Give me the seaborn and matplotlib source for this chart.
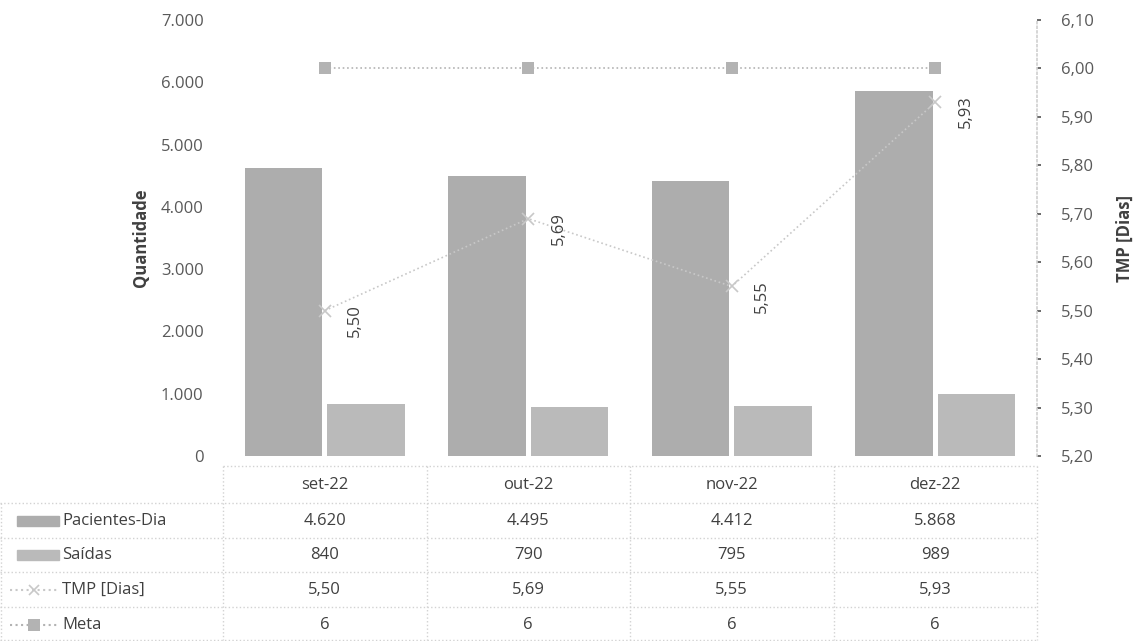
import numpy as np
import pandas as pd
import matplotlib
matplotlib.use('Agg')
import matplotlib.pyplot as plt
import matplotlib.transforms as mtransforms
from matplotlib.lines import Line2D
from matplotlib.patches import Rectangle
from matplotlib.ticker import FuncFormatter
import seaborn as sns

meses = ['set-22', 'out-22', 'nov-22', 'dez-22']
pacientes_dia = [4620, 4495, 4412, 5868]
saidas = [840, 790, 795, 989]
tmp_dias = [5.50, 5.69, 5.55, 5.93]
meta = [6, 6, 6, 6]

sns.set_theme(style='white')
plt.rcParams['font.family'] = ['Open Sans', 'DejaVu Sans']

COR_PAC = '#adadad'
COR_SAI = '#bababa'
COR_LINHA = '#c8c8c8'
COR_META = '#b3b3b3'
COR_TICK = '#595959'
COR_TXT = '#404040'
COR_GRADE = '#d2d2d2'

df = pd.DataFrame({
    'mes': meses * 2,
    'valor': pacientes_dia + saidas,
    'serie': ['Pacientes-Dia'] * 4 + ['Saídas'] * 4,
})

fig = plt.figure(figsize=(11.36, 6.41), dpi=100)
W, H = 1136, 641
x0, x1, ytop, ybot = 223, 1037, 20, 456
ax = fig.add_axes([x0 / W, 1 - ybot / H, (x1 - x0) / W, (ybot - ytop) / H])

sns.barplot(data=df, x='mes', y='valor', hue='serie', palette=[COR_PAC, COR_SAI],
            width=0.81, gap=0.06, ax=ax, legend=False, saturation=1,
            edgecolor='none', linewidth=0)
ax.set_xlim(-0.5, len(meses) - 0.5)
ax.set_ylim(0, 7000)
ax.set_yticks(range(0, 7001, 1000))
ax.yaxis.set_major_formatter(FuncFormatter(lambda v, p: f'{int(v):,}'.replace(',', '.')))
ax.tick_params(axis='y', colors=COR_TICK, labelsize=12, length=0, pad=14)
ax.set_xticks([])
ax.set_xlabel('')
ax.set_ylabel('Quantidade', fontsize=12, fontweight='bold', color=COR_TXT, labelpad=8)
for s in ax.spines.values():
    s.set_visible(False)

# eixo secundario: TMP e Meta
ax2 = ax.twinx()
pos = np.arange(len(meses))
sns.lineplot(x=pos, y=meta, ax=ax2, color=COR_META, linestyle=':', linewidth=1.2,
             marker='s', markersize=9, markeredgewidth=0)
sns.lineplot(x=pos, y=tmp_dias, ax=ax2, color=COR_LINHA, linestyle=':', linewidth=1.2,
             marker='x', markersize=8, markeredgewidth=1.2, markeredgecolor=COR_LINHA)
ax2.set_ylim(5.2, 6.1)
ax2.set_yticks(np.arange(5.2, 6.11, 0.1))
ax2.yaxis.set_major_formatter(FuncFormatter(lambda v, p: f'{v:.2f}'.replace('.', ',')))
ax2.tick_params(axis='y', colors=COR_TICK, labelsize=12, length=3, pad=14)
ax2.set_ylabel('TMP [Dias]', fontsize=12, fontweight='bold', color=COR_TXT, labelpad=16)
for s in ax2.spines.values():
    s.set_visible(False)
ax2.spines['right'].set_visible(True)
ax2.spines['right'].set_color(COR_GRADE)
ax2.spines['right'].set_linestyle(':')
ax2.set_xlim(-0.5, len(meses) - 0.5)

for i, v in enumerate(tmp_dias):
    ax2.text(i + 0.15, v - 0.02, f'{v:.2f}'.replace('.', ','), rotation=90,
             ha='center', va='center', fontsize=12, color=COR_TXT)

# tabela de dados abaixo do grafico
tr = mtransforms.blended_transform_factory(ax.transData, fig.transFigure)
def fy(py):
    return 1 - py / H

linhas_y = [485, 521, 555, 590, 625]
bordas_y = [466, 503, 538, 572, 607, 640]
grade = dict(color=COR_GRADE, linestyle=':', linewidth=1)

for yb in bordas_y:
    xs = 0 if yb >= 503 else x0
    fig.add_artist(Line2D([xs / W, x1 / W], [fy(yb), fy(yb)], **grade))
for k in range(len(meses) + 1):
    xb = x0 + k * (x1 - x0) / len(meses)
    fig.add_artist(Line2D([xb / W, xb / W], [fy(466), fy(640)], **grade))
fig.add_artist(Line2D([1 / W, 1 / W], [fy(503), fy(640)], **grade))

for i, m in enumerate(meses):
    fig.text(i, fy(linhas_y[0]), m, transform=tr, ha='center', va='center', fontsize=12, color=COR_TXT)
    fig.text(i, fy(linhas_y[1]), f'{pacientes_dia[i]:,}'.replace(',', '.'), transform=tr,
             ha='center', va='center', fontsize=12, color=COR_TXT)
    fig.text(i, fy(linhas_y[2]), str(saidas[i]), transform=tr, ha='center', va='center',
             fontsize=12, color=COR_TXT)
    fig.text(i, fy(linhas_y[3]), f'{tmp_dias[i]:.2f}'.replace('.', ','), transform=tr,
             ha='center', va='center', fontsize=12, color=COR_TXT)
    fig.text(i, fy(linhas_y[4]), str(meta[i]), transform=tr, ha='center', va='center',
             fontsize=12, color=COR_TXT)

# legenda da tabela
nomes = ['Pacientes-Dia', 'Saídas', 'TMP [Dias]', 'Meta']
for j, nome in enumerate(nomes):
    yc = fy(linhas_y[j + 1])
    fig.text(62 / W, yc, nome, ha='left', va='center', fontsize=12, color=COR_TXT)
fig.add_artist(Rectangle((17 / W, fy(linhas_y[1]) - 5 / H), 42 / W, 10 / H, color=COR_PAC))
fig.add_artist(Rectangle((17 / W, fy(linhas_y[2]) - 5 / H), 42 / W, 10 / H, color=COR_SAI))
fig.add_artist(Line2D([10 / W, 58 / W], [fy(linhas_y[3])] * 2, color=COR_LINHA, linestyle=':'))
fig.add_artist(Line2D([34 / W], [fy(linhas_y[3])], marker='x', markersize=7, color=COR_LINHA,
                      markeredgewidth=1.2, linestyle='none'))
fig.add_artist(Line2D([10 / W, 58 / W], [fy(linhas_y[4])] * 2, color=COR_META, linestyle=':'))
fig.add_artist(Line2D([34 / W], [fy(linhas_y[4])], marker='s', markersize=8, color=COR_META,
                      markeredgewidth=0, linestyle='none'))

fig.savefig('out.png', dpi=100)
